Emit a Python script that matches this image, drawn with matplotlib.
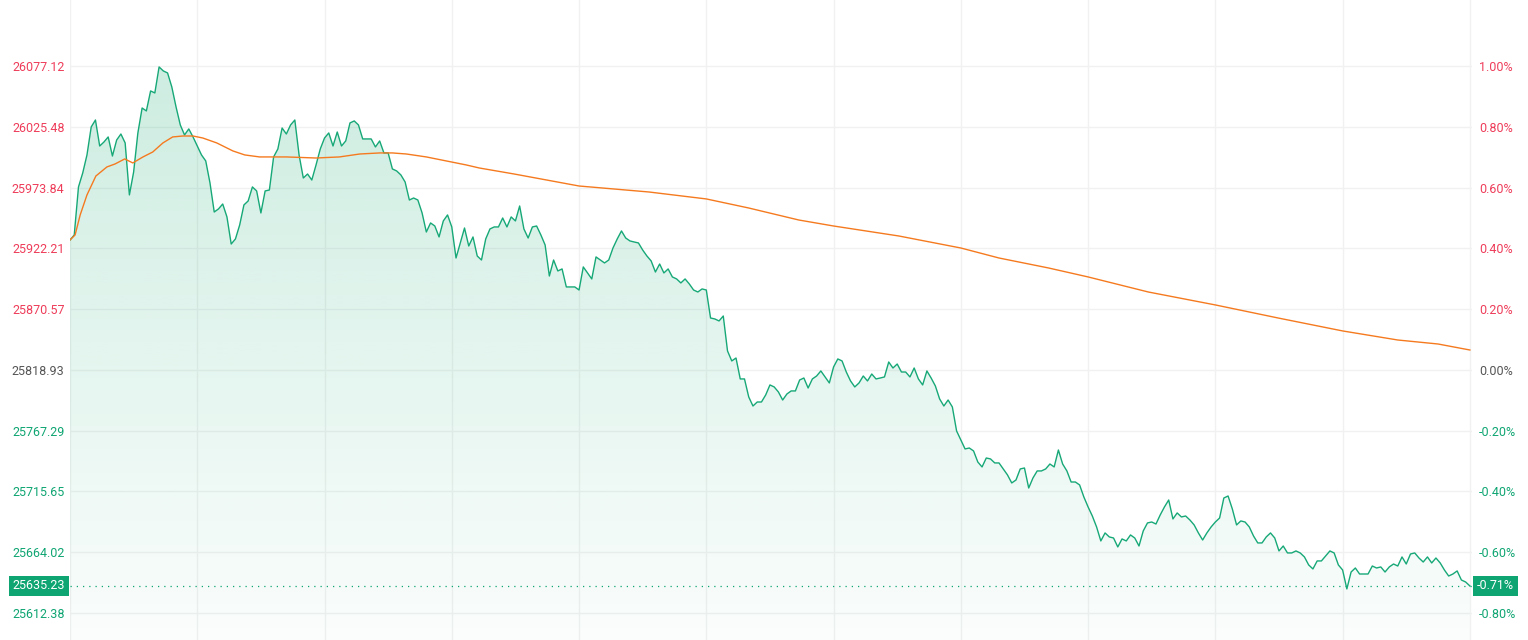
import numpy as np
import matplotlib.pyplot as plt
import matplotlib.transforms as mtransforms

plt.rcParams['font.family'] = ['Roboto', 'DejaVu Sans']

# previous close and intraday 1-minute prices (330 minutes session)
prev_close = 25818.93
prices = [
    25929.3, 25933.6, 25974.4, 25986.3, 26001.6, 26025.4, 26031.3, 26009.2, 26012.6, 26016.9,
    26000.7, 26014.3, 26019.4, 26011.8, 25967.6, 25987.1, 26020.3, 26041.5, 26039.0, 26056.0,
    26054.3, 26076.4, 26073.0, 26071.3, 26059.4, 26042.4, 26027.1, 26018.6, 26023.7, 26016.9,
    26009.2, 26001.6, 25996.5, 25977.8, 25953.1, 25955.7, 25959.9, 25948.9, 25925.9, 25930.2,
    25942.1, 25959.1, 25962.5, 25974.4, 25971.0, 25952.3, 25971.0, 25971.8, 25999.9, 26006.7,
    26024.5, 26019.4, 26027.1, 26031.3, 26001.6, 25982.0, 25985.4, 25980.3, 25993.1, 26006.7,
    26016.0, 26020.3, 26009.2, 26021.1, 26009.2, 26013.5, 26028.8, 26030.5, 26027.1, 26015.2,
    26015.2, 26015.2, 26008.4, 26013.5, 26003.3, 26003.3, 25989.7, 25988.0, 25984.6, 25978.6,
    25963.3, 25965.0, 25963.3, 25952.3, 25936.1, 25943.8, 25941.2, 25931.9, 25945.5, 25950.6,
    25940.4, 25914.0, 25926.8, 25939.5, 25924.2, 25931.9, 25915.7, 25912.3, 25930.2, 25938.7,
    25940.4, 25940.4, 25948.0, 25940.4, 25948.9, 25945.5, 25958.2, 25938.7, 25931.0, 25940.4,
    25941.2, 25933.6, 25925.1, 25898.7, 25912.3, 25903.0, 25904.7, 25889.4, 25889.4, 25889.4,
    25886.8, 25906.4, 25901.3, 25896.2, 25914.9, 25912.3, 25909.8, 25912.3, 25922.5, 25930.2,
    25937.0, 25931.0, 25928.5, 25927.6, 25926.8, 25920.8, 25915.7, 25911.5, 25902.1, 25908.9,
    25901.3, 25904.7, 25897.9, 25896.2, 25892.8, 25896.2, 25891.9, 25886.8, 25885.1, 25887.7,
    25886.8, 25863.0, 25862.2, 25860.5, 25864.7, 25835.0, 25826.5, 25829.0, 25811.2, 25811.2,
    25795.9, 25788.2, 25791.6, 25791.6, 25797.6, 25806.1, 25804.4, 25800.1, 25793.3, 25798.4,
    25801.0, 25801.0, 25810.3, 25812.0, 25803.5, 25811.2, 25813.7, 25818.0, 25812.9, 25807.8,
    25821.4, 25828.2, 25826.5, 25817.1, 25809.5, 25804.4, 25807.8, 25813.7, 25809.5, 25815.4,
    25811.2, 25812.0, 25812.9, 25825.6, 25820.5, 25823.9, 25817.1, 25817.1, 25812.9, 25820.5,
    25811.2, 25806.1, 25818.0, 25812.0, 25805.2, 25794.2, 25788.2, 25793.3, 25787.4, 25767.0,
    25759.3, 25751.7, 25752.5, 25750.0, 25740.6, 25736.4, 25744.0, 25743.2, 25739.8, 25739.8,
    25734.7, 25729.6, 25722.8, 25725.3, 25734.7, 25735.5, 25718.5, 25727.0, 25733.0, 25733.0,
    25734.7, 25738.9, 25736.4, 25750.8, 25738.9, 25733.0, 25723.6, 25723.6, 25721.1, 25710.9,
    25702.4, 25694.7, 25685.4, 25673.5, 25680.3, 25676.9, 25676.0, 25668.4, 25675.2, 25673.5,
    25678.6, 25676.0, 25669.2, 25682.0, 25688.8, 25689.6, 25687.9, 25695.6, 25702.4, 25708.3,
    25692.2, 25697.3, 25693.9, 25694.7, 25691.3, 25687.1, 25680.3, 25674.3, 25680.3, 25685.4,
    25689.6, 25693.0, 25710.0, 25711.7, 25700.7, 25687.1, 25690.5, 25689.6, 25685.4, 25677.7,
    25671.8, 25671.8, 25676.9, 25680.3, 25676.0, 25665.0, 25669.2, 25663.3, 25663.3, 25665.0,
    25663.3, 25659.9, 25653.1, 25649.7, 25656.5, 25656.5, 25660.7, 25665.0, 25663.3, 25653.1,
    25648.8, 25632.7, 25647.1, 25650.5, 25645.4, 25645.4, 25645.4, 25652.2, 25650.5, 25651.4,
    25647.1, 25651.4, 25653.9, 25652.2, 25659.9, 25653.9, 25662.4, 25663.3, 25659.0, 25655.6,
    25659.9, 25654.8, 25659.0, 25654.8, 25648.8, 25643.7, 25645.4, 25648.0, 25640.3, 25638.6,
    25635.23,
]

# running average price line (minute, price)
avg_t = [0, 1.2, 2.4, 4, 6.1, 8.7, 10.6, 12.9, 14.8, 17.2, 19.5, 21.9, 24.2, 26.6, 29, 31.3,
         34.6, 38.4, 41.2, 44.7, 51, 58, 63.5, 68.3, 73, 76, 79.3, 84, 88.7, 93.4, 96.5, 104.7,
         120, 136.5, 150, 160, 171.8, 180, 195.4, 210, 219, 230.7, 240, 254.2, 270, 284.8, 300,
         313, 322.5, 330]
avg_p = [25929.3, 25933.6, 25950.6, 25967.6, 25983.7, 25991.4, 25993.9, 25998.2, 25994.8,
         25999.9, 26004.1, 26011.8, 26016.9, 26017.7, 26017.7, 26016.0, 26011.8, 26005.0,
         26001.6, 25999.9, 25999.9, 25999.0, 25999.9, 26002.4, 26003.3, 26003.3, 26002.4,
         25999.9, 25996.5, 25993.1, 25990.5, 25985.4, 25975.2, 25970.1, 25964.2, 25956.5,
         25946.3, 25941.2, 25932.7, 25922.5, 25914.0, 25905.5, 25897.9, 25885.1, 25874.1,
         25863.0, 25852.0, 25844.3, 25840.9, 25835.8]

pct_ticks = [1.0, 0.8, 0.6, 0.4, 0.2, 0.0, -0.2, -0.4, -0.6, -0.8]
session_minutes = 330

red = '#ee3d5a'
green = '#0fa572'
line_green = '#17a878'
orange = '#f57a1f'
grid_c = '#f1f1f1'

t = np.arange(len(prices))
y_lo, y_hi = 25589.3, 26133.3

fig = plt.figure(figsize=(15.28, 6.4), dpi=100)
ax = fig.add_axes([70 / 1528, 0, 1402 / 1528, 1])

# gradient fill under price line
grad = np.zeros((256, 1, 4))
grad[:, 0, :3] = np.array([16, 168, 110]) / 255
grad[:, 0, 3] = np.linspace(0.23, 0.02, 256)
im = ax.imshow(grad, extent=[0, session_minutes, y_lo, y_hi], aspect='auto',
               origin='upper', zorder=1, interpolation='bilinear')
poly = ax.fill_between(t, prices, y_lo, color='none', lw=0)
im.set_clip_path(poly.get_paths()[0], transform=ax.transData)

ax.plot(t, prices, color=line_green, lw=1, zorder=3)
ax.plot(avg_t, avg_p, color=orange, lw=1, zorder=3)

last = prices[-1]
ax.axhline(last, color=green, lw=0.9, ls=(0, (1, 4)), zorder=2)

ax.set_xlim(0, session_minutes + 0.5)
ax.set_ylim(y_lo, y_hi)
ax.set_xticks(np.arange(0, session_minutes + 1, 30))
ax.tick_params(axis='x', length=0, labelbottom=False)
tick_vals = [prev_close * (1 + p / 100) for p in pct_ticks]
ax.set_yticks(tick_vals)
ax.set_yticklabels([f'{v:.2f}' for v in tick_vals], fontsize=9)
ax.tick_params(axis='y', length=0, pad=4)
ax.grid(color=grid_c, lw=1, zorder=0)
ax.set_axisbelow(True)
for s in ax.spines.values():
    s.set_visible(False)


def label_color(p):
    if p > 0:
        return red
    if p < 0:
        return green
    return '#555555'


for lbl, p in zip(ax.get_yticklabels(), pct_ticks):
    lbl.set_color(label_color(p))

ax2 = ax.twinx()
ax2.set_ylim(y_lo, y_hi)
ax2.set_yticks(tick_vals)
ax2.set_yticklabels([f'{p:.2f}%' for p in pct_ticks], fontsize=9)
ax2.tick_params(axis='y', length=0, pad=5)
for s in ax2.spines.values():
    s.set_visible(False)
for lbl, p in zip(ax2.get_yticklabels(), pct_ticks):
    lbl.set_color(label_color(p))

# last price tags
trans_l = mtransforms.blended_transform_factory(ax.transAxes, ax.transData)
ax.text(-0.0035, last, f'{last:.2f}', transform=trans_l, ha='right', va='center',
        fontsize=9, color='white', zorder=5,
        bbox=dict(boxstyle='square,pad=0.3', fc=green, ec='none'))
last_pct = (last / prev_close - 1) * 100
ax.text(1.0035, last, f'{last_pct:.2f}%', transform=trans_l, ha='left', va='center',
        fontsize=9, color='white', zorder=5, clip_on=False,
        bbox=dict(boxstyle='square,pad=0.3', fc=green, ec='none'))

fig.savefig('out.png', dpi=100)
